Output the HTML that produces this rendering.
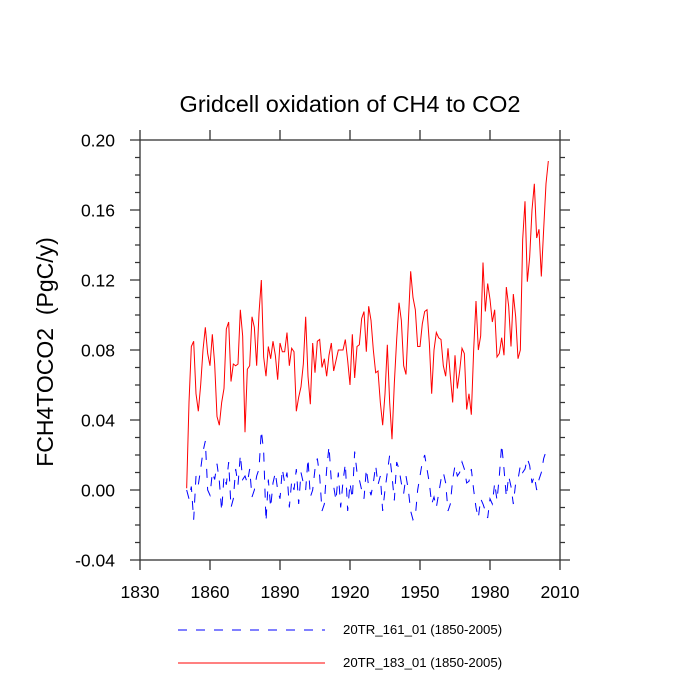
<!DOCTYPE html>
<html><head><meta charset="utf-8"><style>
body{margin:0;background:#fff}
svg{display:block;font-family:"Liberation Sans",sans-serif}
</style></head><body>
<svg id="chart" width="700" height="700" viewBox="0 0 700 700">
<text x="350" y="112" font-size="23.5" text-anchor="middle">Gridcell oxidation of CH4 to CO2</text>
<text transform="translate(53,352) rotate(-90)" font-size="23" text-anchor="middle" xml:space="preserve">FCH4TOCO2  (PgC/y)</text>
<g id="axes"></g>
<g id="series"></g>
<g>
<line x1="178" y1="630" x2="325" y2="630" stroke="#00f" stroke-width="1" stroke-dasharray="9,9"/>
<text x="343" y="634" font-size="13.2">20TR_161_01 (1850-2005)</text>
<line x1="178" y1="663" x2="325" y2="663" stroke="#f00" stroke-width="1"/>
<text x="343" y="667" font-size="13.2">20TR_183_01 (1850-2005)</text>
</g>
</svg>
<script>
const startYear = 1850;
const red183 = [0.001,0.05,0.082,0.085,0.055,0.045,0.06,0.08,0.093,0.078,
0.071,0.089,0.072,0.042,0.037,0.05,0.058,0.092,0.096,0.062,
0.072,0.071,0.072,0.103,0.088,0.033,0.069,0.071,0.099,0.093,
0.071,0.101,0.12,0.076,0.065,0.082,0.075,0.085,0.077,0.063,
0.084,0.079,0.079,0.09,0.071,0.081,0.079,0.045,0.053,0.059,
0.072,0.099,0.065,0.049,0.084,
0.067,0.085,0.086,0.070,0.075,0.065,0.077,0.084,0.068,0.074,
0.080,0.080,0.080,0.086,0.074,0.060,0.089,0.064,0.082,0.083,
0.098,0.102,0.079,0.105,0.097,0.080,0.067,0.068,0.050,0.037,
0.055,0.083,0.050,0.029,0.061,0.086,0.107,0.097,0.071,0.066,
0.096,0.125,0.110,0.103,0.082,0.082,0.095,0.102,0.103,0.084,
0.055,0.080,
0.090,0.087,0.086,0.071,0.065,0.081,0.065,0.050,0.077,0.058,
0.068,0.081,0.078,0.046,0.055,0.043,0.080,0.108,0.080,0.088,
0.130,0.102,0.118,0.109,0.096,0.103,0.076,0.078,0.087,0.077,
0.116,0.105,0.082,0.112,0.099,0.075,0.080,0.143,0.165,0.119,
0.133,0.160,0.175,0.144,0.149,0.122,0.149,0.175,0.188];
const blue161 = [0.0,-0.005,0.002,-0.017,0.008,0.003,0.012,0.022,0.028,0.0,
-0.003,0.01,0.006,0.015,0.005,-0.012,0.008,0.003,0.016,-0.01,
-0.005,0.012,0.003,0.02,0.006,0.008,0.004,0.012,-0.004,0.0,
0.008,0.012,0.034,0.022,-0.018,0.006,-0.01,0.004,0.01,0.0,
-0.005,0.012,0.004,0.01,-0.01,0.005,0.0,0.012,-0.008,0.01,
0.004,0.0,0.018,-0.004,0.0,0.012,0.018,0.008,-0.012,-0.008,
0.012,0.025,0.005,0.002,-0.006,0.01,-0.01,0.005,0.015,-0.012,
0.004,-0.005,0.022,0.01,0.006,0.0,-0.005,0.012,0.002,-0.003,
0.004,0.014,0.003,0.008,-0.012,0.0,0.01,0.02,0.008,-0.006,
0.016,0.012,0.004,-0.002,0.008,0.0,-0.012,-0.017,-0.015,0.0,
0.008,0.016,0.02,0.012,0.004,-0.008,-0.004,-0.01,-0.002,0.006,
0.01,0.004,-0.012,-0.008,0.006,0.014,0.008,0.01,0.016,0.012,
0.004,0.005,0.012,0.0,-0.01,-0.016,-0.005,-0.008,-0.012,-0.016,
-0.005,-0.008,0.004,-0.006,0.008,0.026,0.012,-0.004,0.008,0.002,
-0.008,0.004,0.006,0.014,0.01,0.012,0.018,0.014,0.004,0.008,
0.0,0.006,0.01,0.018,0.022,0.02];
const xTicks = [1830,1860,1890,1920,1950,1980,2010];
const yTicks = [-0.04,0,0.04,0.08,0.12,0.16,0.20];
const yTickLabels = ["-0.04","0.00","0.04","0.08","0.12","0.16","0.20"];

const L=140,R=560,T=140,B=560,X0=1830,X1=2010,Y0=-0.04,Y1=0.20;
const xs = v => L+(v-X0)/(X1-X0)*(R-L);
const ys = v => B-(v-Y0)/(Y1-Y0)*(B-T);
const NS='http://www.w3.org/2000/svg';
function mk(tag,attrs,parent){const e=document.createElementNS(NS,tag);for(const k in attrs)e.setAttribute(k,attrs[k]);parent.appendChild(e);return e;}
const ax=document.getElementById('axes');
const frame=mk('rect',{x:L,y:T,width:R-L,height:B-T,fill:'none',stroke:'#333','stroke-width':1.3},ax);


let tk='';
xTicks.forEach(v=>{const x=xs(v);tk+=`M${x} ${B}v10M${x} ${T}v-10`;});
for(let i=0;i<=24;i++){const v=Y0+i*0.01;const y=ys(v);const len=(i%4===0)?10:5;tk+=`M${L} ${y}h${-len}M${R} ${y}h${len}`;}
const ticks=mk('path',{d:tk,stroke:'#333','stroke-width':1.3,fill:'none'},ax);


xTicks.forEach(v=>{const t=mk('text',{x:xs(v),y:B+38,'font-size':17.5,'text-anchor':'middle'},ax);t.textContent=v;

});
yTicks.forEach((v,i)=>{const t=mk('text',{x:L-25,y:ys(v)+6.5,'font-size':17.5,'text-anchor':'end'},ax);t.textContent=yTickLabels[i];

});
const sg=document.getElementById('series');
function line(arr,color,dash,name){const pts=arr.map((v,i)=>xs(startYear+i).toFixed(2)+','+ys(v).toFixed(2)).join(' ');
const p=mk('polyline',{points:pts,fill:'none',stroke:color,'stroke-width':1,'stroke-dasharray':dash},sg);

}
line(blue161,'#00f','9,9','series-20tr-161');
line(red183,'#f00','none','series-20tr-183');
</script>
</body></html>
